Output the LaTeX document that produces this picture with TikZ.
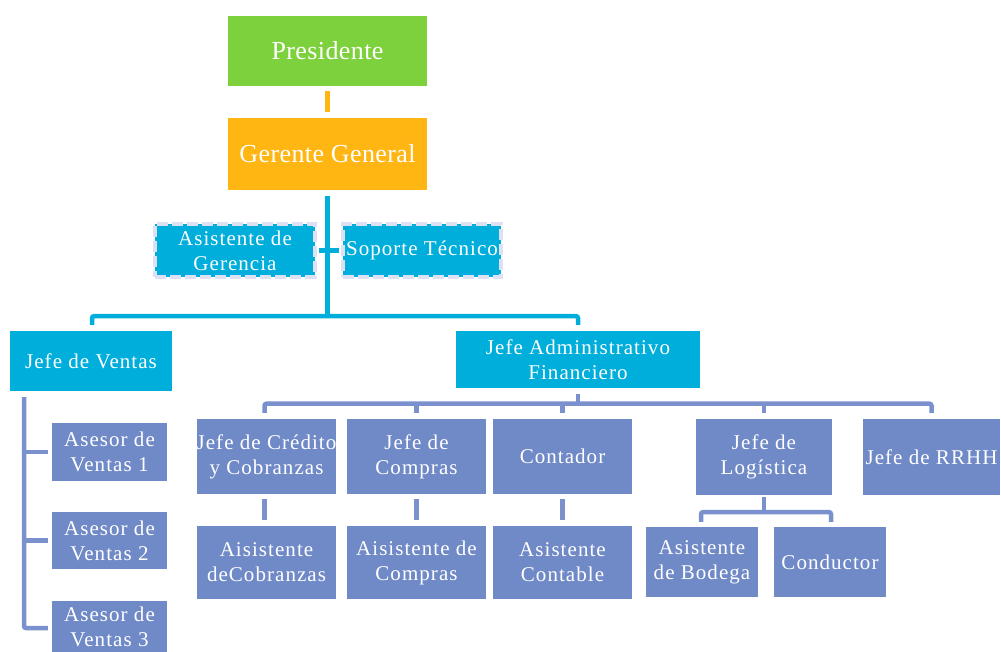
\documentclass[tikz,border=0pt]{standalone}
\usepackage{fontspec}
\setmainfont{Liberation Serif}[LetterSpace=5]
\usetikzlibrary{calc}

\definecolor{presgreen}{HTML}{7DD13C}
\definecolor{gerorange}{HTML}{FFB612}
\definecolor{headcyan}{HTML}{00AEDB}
\definecolor{unitblue}{HTML}{7089C7}
\definecolor{linkblue}{HTML}{7A91CD}
\definecolor{dashlav}{HTML}{DDE1F3}

\newcommand{\wideline}[1]{\makebox[0pt][c]{#1}}

\tikzset{
  orgbox/.style={rectangle, inner sep=0pt, text=white, align=center,
    font=\fontsize{21}{25}\selectfont},
  topbox/.style={orgbox, font=\fontsize{26}{30}\selectfont\addfontfeature{LetterSpace=1.5}},
  cyanbox/.style={orgbox, fill=headcyan},
  bluebox/.style={orgbox, fill=unitblue},
  staffbox/.style={orgbox, fill=headcyan, draw=dashlav, line width=4pt,
    dash pattern=on 11pt off 4pt},
  cyanlink/.style={draw=headcyan, line width=4.5pt, rounded corners=2pt},
  bluelink/.style={draw=linkblue, line width=4.5pt, rounded corners=2pt},
  orangelink/.style={draw=gerorange, line width=4.5pt}
}

\begin{document}
\begin{tikzpicture}[x=1pt, y=-1pt]
  \useasboundingbox (0,0) rectangle (1001,652);
  \clip (0,0) rectangle (1001,652);

  % top of the chart
  \node[topbox, fill=presgreen, minimum width=199, minimum height=70] (pres) at (327.5,51) {Presidente};
  \node[topbox, fill=gerorange, minimum width=199, minimum height=72] (ger) at (327.5,154) {Gerente General};

  % staff positions
  \node[staffbox, minimum width=160, minimum height=53] (asg) at (235,250.5) {Asistente de\\Gerencia};
  \node[staffbox, minimum width=158, minimum height=53] (sop) at (422,250.5) {\wideline{Soporte Técnico}};

  % department heads
  \node[cyanbox, minimum width=162, minimum height=60] (ven) at (91,361) {Jefe de Ventas};
  \node[cyanbox, minimum width=244, minimum height=57] (adm) at (578,359.5) {Jefe Administrativo\\Financiero};

  % sales advisers
  \node[bluebox, minimum width=115, minimum height=58] (as1) at (109.5,452) {Asesor de\\Ventas 1};
  \node[bluebox, minimum width=115, minimum height=57] (as2) at (109.5,540.5) {Asesor de\\Ventas 2};
  \node[bluebox, minimum width=115, minimum height=52] (as3) at (109.5,627) {Asesor de\\Ventas 3};

  % administrative and financial units
  \node[bluebox, minimum width=139, minimum height=75] (cred) at (266.5,456.5) {\wideline{Jefe de Crédito}\\\wideline{y Cobranzas}};
  \node[bluebox, minimum width=139, minimum height=75] (comp) at (416.5,456.5) {Jefe de\\Compras};
  \node[bluebox, minimum width=139, minimum height=75] (cont) at (562.5,456.5) {Contador};
  \node[bluebox, minimum width=136, minimum height=76] (log) at (764,457) {Jefe de\\Logística};
  \node[bluebox, minimum width=137, minimum height=76] (rrhh) at (931.5,457) {\wideline{Jefe de RRHH}};

  % assistants
  \node[bluebox, minimum width=139, minimum height=73] (acob) at (266.5,562.5) {Aisistente\\deCobranzas};
  \node[bluebox, minimum width=139, minimum height=73] (acomp) at (416.5,562.5) {Aisistente de\\Compras};
  \node[bluebox, minimum width=139, minimum height=73] (acont) at (562.5,562.5) {Asistente\\Contable};
  \node[bluebox, minimum width=112, minimum height=70] (bod) at (702,562) {Asistente\\de Bodega};
  \node[bluebox, minimum width=112, minimum height=70] (cond) at (830,562) {Conductor};

  % president to general manager
  \draw[orangelink] ($(pres.south)+(0,5)$) -- ($(ger.north)+(0,-6)$);

  % general manager to staff and heads
  \coordinate (gbar) at ($(ger.south)+(0,126)$);
  \draw[cyanlink] ($(ger.south)+(0,6)$) -- (gbar);
  \draw[cyanlink] ($(asg.east)+(2,0)$) -- ($(sop.west)+(-2,0)$);
  \draw[cyanlink] ($(ven.north)+(1,-6)$) |- (gbar) -| ($(adm.north)+(0,-6)$);

  % sales column
  \coordinate (vtop) at ($(ven.south)+(-67,6)$);
  \draw[bluelink] (vtop) |- ($(as3.west)+(-4,1)$);
  \draw[bluelink] (vtop |- as1.west) -- ($(as1.west)+(-4,0)$);
  \draw[bluelink] (vtop |- as2.west) -- ($(as2.west)+(-4,0)$);

  % administrative bar
  \coordinate (abar) at ($(adm.south)+(0,15.5)$);
  \draw[bluelink] ($(adm.south)+(0,6)$) -- (abar);
  \draw[bluelink] ($(cred.north)+(-2,-6)$) |- (abar) -| ($(rrhh.north)+(0,-6)$);
  \draw[bluelink] ($(comp.north)+(0,-6)$) -- (comp.north |- abar);
  \draw[bluelink] ($(cont.north)+(0,-6)$) -- (cont.north |- abar);
  \draw[bluelink] ($(log.north)+(0,-6)$) -- (log.north |- abar);

  % units to assistants
  \draw[bluelink] ($(cred.south)+(-2,5)$) -- ($(acob.north)+(-2,-6)$);
  \draw[bluelink] ($(comp.south)+(0,5)$) -- ($(acomp.north)+(0,-6)$);
  \draw[bluelink] ($(cont.south)+(0,5)$) -- ($(acont.north)+(0,-6)$);
  \coordinate (lbar) at ($(log.south)+(0,17)$);
  \draw[bluelink] ($(log.south)+(0,2)$) -- (lbar);
  \draw[bluelink] ($(bod.north)+(-1,-5)$) |- (lbar) -| ($(cond.north)+(1,-5)$);
\end{tikzpicture}
\end{document}
